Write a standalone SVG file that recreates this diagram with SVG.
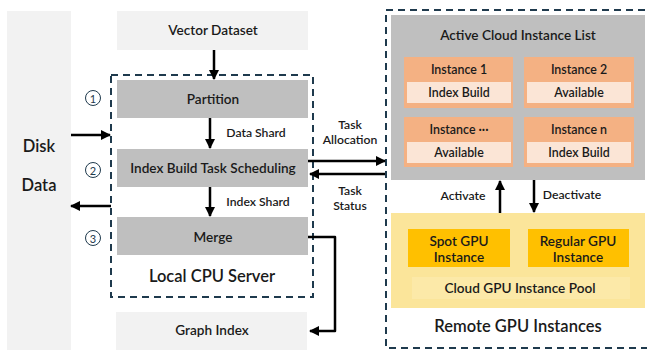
<svg xmlns="http://www.w3.org/2000/svg" width="647" height="350" viewBox="0 0 647 350">
<style>
text{font-family:"Lato","Noto Sans","Liberation Sans",sans-serif;fill:#1a1a1a;text-anchor:middle;dominant-baseline:central}
.b{font-size:13.6px;font-weight:600}
.s{font-size:12.2px;font-weight:600}
.i{font-size:12.4px;font-weight:600}
.big{font-size:16.5px;font-weight:600}
.dash{fill:none;stroke:#1f3a4d;stroke-width:2;stroke-dasharray:7,5}
.ln{fill:none;stroke:#000;stroke-width:2.5}
.circ{fill:none;stroke:#1f3a4d;stroke-width:1}
</style>
<defs>
<marker id="ah" viewBox="0 0 10 10" refX="9" refY="5" markerWidth="4" markerHeight="4" orient="auto" markerUnits="strokeWidth">
<path d="M0,0 L10,5 L0,10 z" fill="#000"/>
</marker>
</defs>
<rect width="647" height="350" fill="#fff"/>
<g id="disk">
<rect x="7" y="11" width="64" height="339" fill="#f2f2f2"/>
<text class="big" x="39" y="146">Disk</text>
<text class="big" x="39" y="185">Data</text>
</g>
<g id="vector-dataset">
<rect x="117" y="11" width="191" height="39" fill="#f2f2f2"/>
<text class="b" x="213" y="30">Vector Dataset</text>
</g>
<g id="local-cpu-server">
<rect class="dash" x="111" y="75" width="202" height="222"/>
<text class="big" x="212" y="276">Local CPU Server</text>
</g>
<g id="partition">
<rect x="117" y="80" width="191" height="38" fill="#bfbfbf"/>
<text class="b" x="213" y="99">Partition</text>
</g>
<g id="scheduling">
<rect x="117" y="149" width="191" height="38" fill="#bfbfbf"/>
<text class="b" x="213" y="168">Index Build Task Scheduling</text>
</g>
<g id="merge">
<rect x="117" y="217" width="191" height="38" fill="#bfbfbf"/>
<text class="b" x="213" y="237">Merge</text>
</g>
<g id="steps">
<circle class="circ" cx="93" cy="98" r="7.5"/>
<text x="93" y="98" style="font-size:11px;fill:#1f3a4d">1</text>
<circle class="circ" cx="93" cy="170" r="7.5"/>
<text x="93" y="170" style="font-size:11px;fill:#1f3a4d">2</text>
<circle class="circ" cx="93" cy="238" r="7.5"/>
<text x="93" y="238" style="font-size:11px;fill:#1f3a4d">3</text>
</g>
<g id="graph-index">
<rect x="116" y="312" width="191" height="38" fill="#f2f2f2"/>
<text class="b" x="212" y="330">Graph Index</text>
</g>
<g id="remote-gpu">
<rect class="dash" x="386" y="10" width="262" height="338"/>
<text class="big" x="518" y="326">Remote GPU Instances</text>
</g>
<g id="active-list">
<rect x="391" y="15" width="254" height="165" fill="#bfbfbf"/>
<text class="b" x="518" y="35">Active Cloud Instance List</text>
</g>
<g id="instance-1">
<rect x="404" y="57" width="109" height="51" fill="#f4b183"/>
<rect x="407" y="82" width="104" height="21" fill="#fbe5d6"/>
<text class="i" x="459" y="69">Instance 1</text>
<text class="i" x="459" y="92.5">Index Build</text>
</g>
<g id="instance-2">
<rect x="524" y="57" width="110" height="51" fill="#f4b183"/>
<rect x="527" y="82" width="104" height="21" fill="#fbe5d6"/>
<text class="i" x="579" y="69">Instance 2</text>
<text class="i" x="579" y="92.5">Available</text>
</g>
<g id="instance-dots">
<rect x="404" y="117" width="109" height="50" fill="#f4b183"/>
<rect x="407" y="142" width="104" height="21" fill="#fbe5d6"/>
<text class="i" x="459" y="129">Instance ···</text>
<text class="i" x="459" y="152.5">Available</text>
</g>
<g id="instance-n">
<rect x="524" y="117" width="110" height="50" fill="#f4b183"/>
<rect x="527" y="142" width="104" height="21" fill="#fbe5d6"/>
<text class="i" x="579" y="129">Instance n</text>
<text class="i" x="579" y="152.5">Index Build</text>
</g>
<g id="gpu-pool">
<rect x="391" y="213" width="254" height="95" fill="#fbe59a"/>
<rect x="412" y="277" width="218" height="22" fill="#fce9a8"/>
<text class="b" x="520" y="288">Cloud GPU Instance Pool</text>
</g>
<g id="spot-gpu">
<rect x="408" y="229" width="102" height="38" fill="#ffc000"/>
<text class="b" x="459" y="241">Spot GPU</text>
<text class="b" x="459" y="257">Instance</text>
</g>
<g id="regular-gpu">
<rect x="528" y="229" width="101" height="38" fill="#ffc000"/>
<text class="b" x="578" y="241">Regular GPU</text>
<text class="b" x="578" y="257">Instance</text>
</g>
<g id="connectors">
<line class="ln" x1="214" y1="50" x2="214" y2="79" marker-end="url(#ah)"/>
<line class="ln" x1="210" y1="118" x2="210" y2="148" marker-end="url(#ah)"/>
<text class="s" x="256" y="132">Data Shard</text>
<line class="ln" x1="210" y1="187" x2="210" y2="216" marker-end="url(#ah)"/>
<text class="s" x="258" y="201">Index Shard</text>
<line class="ln" x1="71" y1="135" x2="110" y2="135" marker-end="url(#ah)"/>
<line class="ln" x1="111" y1="206" x2="71" y2="206" marker-end="url(#ah)"/>
<polyline class="ln" points="308,237 335,237 335,331 310,331" marker-end="url(#ah)" stroke-linejoin="round"/>
<line class="ln" x1="308" y1="161" x2="385" y2="161" marker-end="url(#ah)"/>
<line class="ln" x1="385" y1="174" x2="310" y2="174" marker-end="url(#ah)"/>
<text class="s" x="350" y="124">Task</text>
<text class="s" x="350" y="139">Allocation</text>
<text class="s" x="350" y="190">Task</text>
<text class="s" x="350" y="205">Status</text>
<line class="ln" x1="500" y1="213" x2="500" y2="181" marker-end="url(#ah)"/>
<line class="ln" x1="534" y1="180" x2="534" y2="212" marker-end="url(#ah)"/>
<text class="s" x="463" y="195">Activate</text>
<text class="s" x="572" y="194">Deactivate</text>
</g>
</svg>
